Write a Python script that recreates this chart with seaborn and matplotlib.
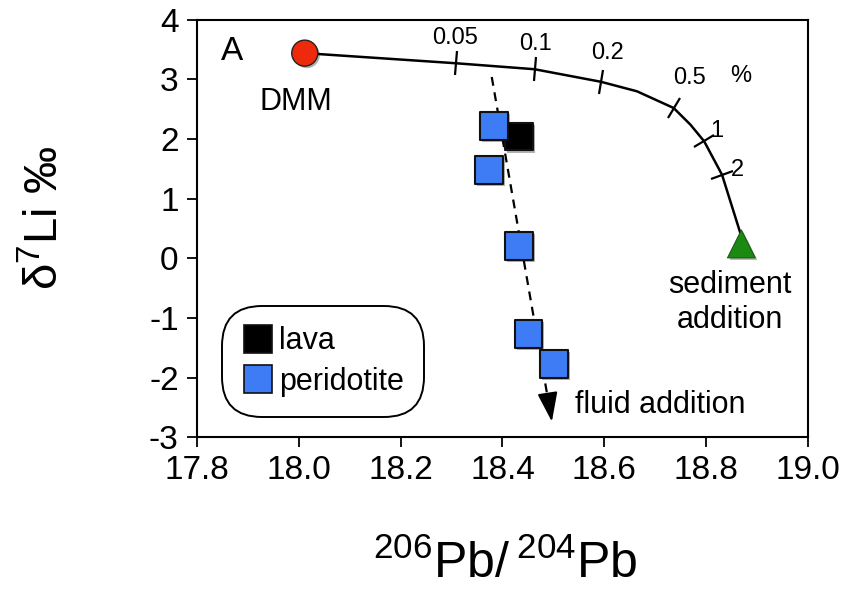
import numpy as np
import pandas as pd
import seaborn as sns
import matplotlib.pyplot as plt
from matplotlib.markers import MarkerStyle
from matplotlib.transforms import Affine2D
from matplotlib.lines import Line2D
import matplotlib.patheffects as pe

# data
dmm = (18.012, 3.44)
sediment = (18.869, 0.24)
lava_x = [18.433]
lava_y = [2.04]
perid_x = [18.383, 18.373, 18.433, 18.451, 18.501]
perid_y = [2.22, 1.48, 0.21, -1.27, -1.77]

# mixing curve and its % ticks
curve_x = [18.012, 18.309, 18.463, 18.593, 18.664, 18.736, 18.769, 18.796, 18.831, 18.867]
curve_y = [3.44, 3.27, 3.17, 2.96, 2.80, 2.52, 2.24, 1.96, 1.40, 0.42]
tick_lbl = ["0.05", "0.1", "0.2", "0.5", "1", "2"]
tick_idx = [1, 2, 3, 5, 7, 8]

# fluid addition trend
fluid_x = [18.379, 18.497]
fluid_y = [3.04, -2.74]

sns.set_style("ticks")
plt.rcParams["font.family"] = ["Liberation Sans", "DejaVu Sans"]
plt.rcParams["mathtext.fontset"] = "custom"
plt.rcParams["mathtext.rm"] = "Liberation Sans"
plt.rcParams["axes.unicode_minus"] = False
for k in ["text.color", "axes.labelcolor", "xtick.color", "ytick.color", "axes.edgecolor"]:
    plt.rcParams[k] = "black"

fig = plt.figure(figsize=(8.48, 5.98), dpi=100)
ax = fig.add_axes([0.232, 0.269, 0.721, 0.698])
ax.set_xlim(17.8, 19.0)
ax.set_ylim(-3, 4)

# curve
ax.plot(curve_x, curve_y, color="black", lw=1.8, zorder=2)

# dashed arrow
ax.plot(fluid_x[:1] + [fluid_x[1] - 0.006], fluid_y[:1] + [fluid_y[1] + 0.3],
        color="black", lw=1.6, ls=(0, (4, 3)), zorder=2)
ax.annotate("", xy=(fluid_x[1], fluid_y[1]), xytext=(fluid_x[1] - 0.008, fluid_y[1] + 0.45),
            arrowprops=dict(arrowstyle="-|>,head_length=1.8,head_width=0.62", color="black",
                            lw=1.5, shrinkA=0, shrinkB=0))

# ticks perpendicular to curve
fig.canvas.draw()
disp = ax.transData.transform(np.column_stack([curve_x, curve_y]))
for i in tick_idx:
    d = disp[i + 1] - disp[i - 1]
    ang = np.degrees(np.arctan2(d[1], d[0]))
    m = MarkerStyle("_", transform=Affine2D().rotate_deg(ang + 90))
    ax.plot(curve_x[i], curve_y[i], marker=m, ms=17, mew=1.6, color="black", zorder=3)

lbl_pos = {"0.05": (18.307, 3.70, "center"), "0.1": (18.464, 3.60, "center"),
           "0.2": (18.607, 3.45, "center"), "0.5": (18.767, 3.03, "center"),
           "1": (18.808, 2.14, "left"), "2": (18.849, 1.48, "left")}
for lbl in tick_lbl:
    x, y, ha = lbl_pos[lbl]
    ax.text(x, y, lbl, fontsize=17, ha=ha, va="center")
ax.text(18.867, 3.05, "%", fontsize=17, ha="center", va="center")

shadow = [pe.SimplePatchShadow(offset=(1.5, -1.5), shadow_rgbFace="black", alpha=0.3), pe.Normal()]

# end members
ax.scatter(*dmm, s=350, color="#ee2a0c", edgecolor="#222222", lw=1, zorder=5, path_effects=shadow)
ax.scatter(*sediment, s=400, marker="^", color="#1a8a12", edgecolor="#1a5a12", lw=0.8, zorder=5, path_effects=shadow)

# samples
df = pd.DataFrame({
    "x": lava_x + perid_x,
    "y": lava_y + perid_y,
    "type": ["lava"] * len(lava_x) + ["peridotite"] * len(perid_x),
})
sns.scatterplot(data=df, x="x", y="y", hue="type", palette={"lava": "black", "peridotite": "#3d7cf5"},
                marker="s", s=400, edgecolor="#111111", linewidth=1.5, ax=ax, zorder=6, legend=False)
ax.collections[-1].set_path_effects(shadow)

# legend
handles = [Line2D([], [], ls="", marker="s", ms=20, mfc="black", mec="#111111", mew=1.2),
           Line2D([], [], ls="", marker="s", ms=20, mfc="#3d7cf5", mec="#111111", mew=1.2)]
leg = ax.legend(handles, ["lava", "peridotite"], loc="upper left", bbox_to_anchor=(0.042, 0.313),
                fontsize=22, handletextpad=0.2, borderpad=0.35, labelspacing=0.35,
                frameon=True, fancybox=True, edgecolor="black", framealpha=1,
                handlelength=1.0, borderaxespad=0.3)
leg.get_frame().set_boxstyle("round,pad=0.3,rounding_size=1.3")
leg.get_frame().set_linewidth(1.4)

# annotations
ax.text(17.869, 3.46, "A", fontsize=24, ha="center", va="center")
ax.text(17.994, 2.62, "DMM", fontsize=22, ha="center", va="center")
ax.text(18.847, -0.45, "sediment", fontsize=22, ha="center", va="center")
ax.text(18.847, -1.04, "addition", fontsize=22, ha="center", va="center")
ax.text(18.543, -2.46, "fluid addition", fontsize=22, ha="left", va="center")

ax.set_xticks(np.arange(17.8, 19.01, 0.2))
ax.set_xticklabels([f"{v:.1f}" for v in np.arange(17.8, 19.01, 0.2)])
ax.set_yticks(range(-3, 5))
ax.tick_params(labelsize=24, direction="out", length=7, width=1.3, pad=6)
for s in ax.spines.values():
    s.set_linewidth(1.5)
ax.set_xlabel(r"$\mathregular{^{206}Pb/\,^{204}Pb}$", fontsize=36, va="top")
ax.set_ylabel(r"$\mathregular{δ^{7}Li}$ ‰", fontsize=34, va="bottom")
ax.xaxis.set_label_coords(0.505, -0.245)
ax.yaxis.set_label_coords(-0.21, 0.525)

fig.savefig("out.png", dpi=100)
